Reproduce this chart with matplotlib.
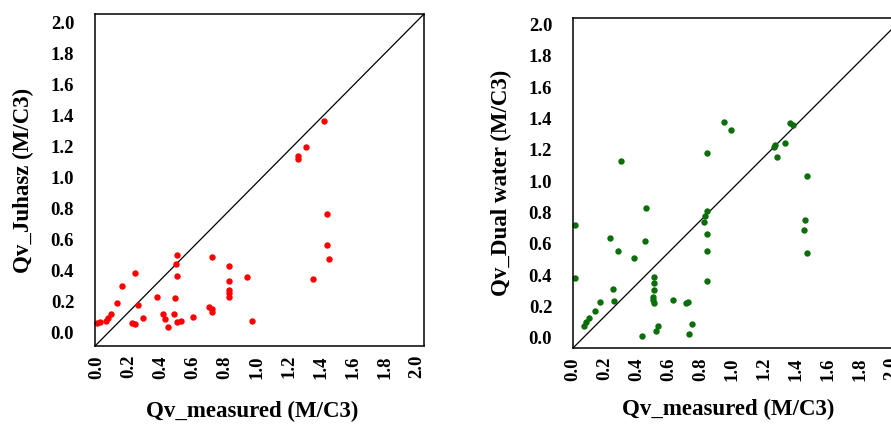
import matplotlib.pyplot as plt
import numpy as np

# Qv_Juhasz vs measured
juhasz_x = [1.42, 1.31, 1.26, 1.26, 1.44, 1.44, 1.45, 1.35, 0.50, 0.495, 0.505, 0.72,
            0.826, 0.826, 0.826, 0.826, 0.826, 0.94, 0.97, 0.24, 0.16, 0.13, 0.26, 0.375,
            0.49, 0.09, 0.07, 0.06, 0.02, 0.0, 0.22, 0.24, 0.29, 0.415, 0.43, 0.445,
            0.485, 0.50, 0.525, 0.60, 0.70, 0.72, 0.72]
juhasz_y = [1.37, 1.20, 1.14, 1.12, 0.77, 0.57, 0.48, 0.35, 0.50, 0.445, 0.37, 0.49,
            0.43, 0.335, 0.28, 0.256, 0.234, 0.36, 0.08, 0.39, 0.305, 0.195, 0.18, 0.234,
            0.228, 0.12, 0.095, 0.08, 0.073, 0.066, 0.066, 0.058, 0.095, 0.12, 0.088, 0.037,
            0.12, 0.073, 0.08, 0.10, 0.166, 0.153, 0.134]

# Qv_Dual water vs measured
dual_x = [0.95, 0.99, 1.36, 1.38, 1.27, 1.26, 1.33, 1.28, 0.30, 0.84, 1.47, 1.455,
          1.45, 1.47, 0.46, 0.84, 0.83, 0.82, 0.84, 0.84, 0.84, 0.01, 0.01, 0.23,
          0.45, 0.28, 0.38, 0.51, 0.51, 0.51, 0.50, 0.50, 0.51, 0.25, 0.26, 0.17,
          0.14, 0.10, 0.08, 0.07, 0.63, 0.71, 0.72, 0.535, 0.52, 0.43, 0.745, 0.73]
dual_y = [1.38, 1.325, 1.37, 1.36, 1.23, 1.22, 1.245, 1.155, 1.13, 1.18, 1.03, 0.75,
          0.69, 0.54, 0.83, 0.81, 0.78, 0.74, 0.66, 0.555, 0.365, 0.72, 0.38, 0.64,
          0.62, 0.555, 0.51, 0.39, 0.35, 0.305, 0.26, 0.24, 0.225, 0.31, 0.235, 0.23,
          0.175, 0.13, 0.10, 0.076, 0.24, 0.225, 0.23, 0.078, 0.046, 0.013, 0.09, 0.024]

ticks = np.arange(0, 2.01, 0.2)
tick_labels = ['%.1f' % t for t in ticks]

plt.rcParams['font.family'] = 'Liberation Serif'
plt.rcParams['font.weight'] = 'bold'

W, H = 891, 424
fig = plt.figure(figsize=(W / 100, H / 100), dpi=100)


def make_axes(box, xlim, ylim, xs, ys, color, ylabel, xlab_pos):
    left, top, w, h = box
    ax = fig.add_axes([left / W, (H - top - h) / H, w / W, h / H])
    ax.plot([0, 1], [0, 1], transform=ax.transAxes, color='black', lw=0.9, zorder=1)
    ax.plot(xs, ys, 'o', color=color, ms=4.6, mec='none', zorder=2, clip_on=False)
    ax.set_xlim(*xlim)
    ax.set_ylim(*ylim)
    ax.set_xticks(ticks)
    ax.set_yticks(ticks)
    ax.set_xticklabels(tick_labels, rotation=90, fontsize=13.5, fontweight='bold')
    ax.set_yticklabels(tick_labels, fontsize=13.5, fontweight='bold')
    ax.tick_params(axis='x', length=0, pad=6.5)
    ax.tick_params(axis='y', length=0, pad=15)
    for s in ax.spines.values():
        s.set_linewidth(1.1)
    ax.set_xlabel('Qv_measured (M/C3)', fontsize=16.5, fontweight='bold')
    ax.set_ylabel(ylabel, fontsize=16.5, fontweight='bold')
    ax.xaxis.set_label_coords(*xlab_pos)
    ax.yaxis.set_label_coords(-0.185, 0.5)
    return ax


make_axes((95, 14, 329, 332), (-0.01, 2.045), (-0.084, 2.058), juhasz_x, juhasz_y,
          '#ff0000', 'Qv_Juhasz (M/C3)', (0.477, -0.165))
make_axes((573, 18, 330, 330), (0.0, 2.07), (-0.064, 2.04), dual_x, dual_y,
          '#0b6e0b', 'Qv_Dual water (M/C3)', (0.47, -0.155))

fig.savefig('out.png', dpi=100)
